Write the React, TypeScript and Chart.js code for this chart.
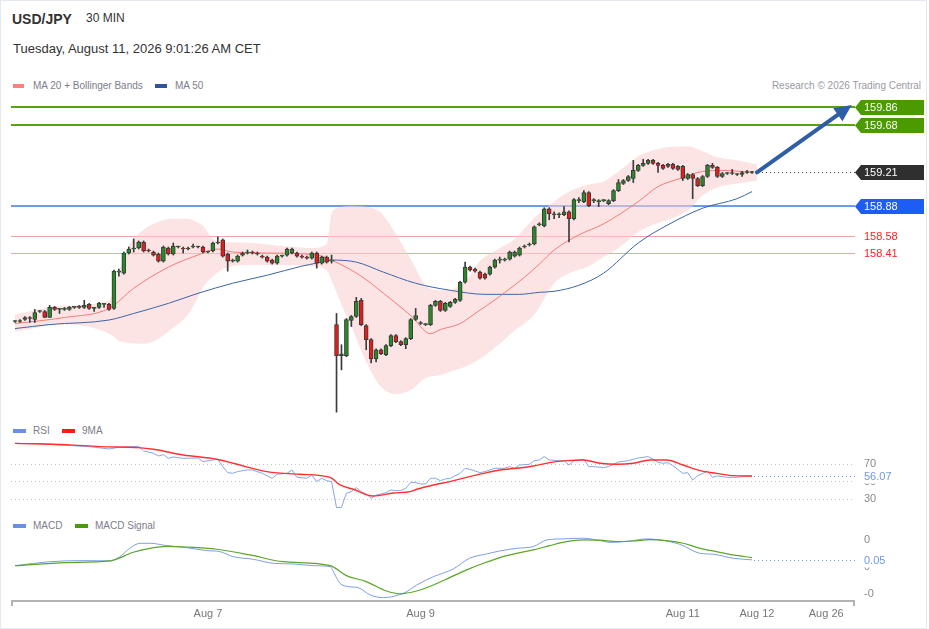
import React, { useEffect, useRef } from "react";
import { Chart, registerables } from "chart.js";
Chart.register(...registerables);

const FONT = '"Liberation Sans", Arial, Helvetica, sans-serif';

// ---------- Candles (30 min) ----------
const opens = [
  157.73,157.73,157.75,157.77,157.75,157.83,157.83,157.77,157.87,157.85,
  157.85,157.85,157.87,157.88,157.87,157.90,157.86,157.87,157.90,157.90,
  157.86,158.22,158.21,158.41,158.45,158.46,158.52,158.44,158.42,158.40,
  158.33,158.46,158.40,158.47,158.46,158.45,158.47,158.47,158.47,158.42,
  158.43,158.51,158.54,158.40,158.33,158.33,158.39,158.41,158.42,158.41,
  158.38,158.37,158.34,158.31,158.38,158.39,158.41,158.41,158.38,158.37,
  158.36,158.41,158.31,158.37,158.33,157.70,157.39,157.39,157.74,157.78,
  157.94,157.69,157.55,157.36,157.45,157.40,157.49,157.59,157.53,157.50,
  157.56,157.75,157.71,157.70,157.70,157.89,157.93,157.84,157.88,157.92,
  157.94,158.12,158.27,158.25,158.22,158.20,158.20,158.27,158.34,158.34,
  158.35,158.38,158.39,158.47,158.49,158.50,158.69,158.68,158.85,158.79,
  158.79,158.79,158.82,158.75,158.93,158.92,159.01,158.93,158.92,158.93,
  158.90,158.93,159.03,159.10,159.13,159.15,159.23,159.28,159.30,159.33,
  159.30,159.28,159.27,159.29,159.27,159.27,159.15,159.19,159.15,159.08,
  159.17,159.28,159.26,159.17,159.20,159.20,159.19,159.19,159.21,159.21,
];
const highs = [
  157.74,157.75,157.78,157.78,157.85,157.84,157.84,157.89,157.88,157.86,
  157.87,157.88,157.88,157.89,157.94,157.91,157.87,157.92,157.91,157.91,
  158.24,158.25,158.42,158.47,158.55,158.53,158.53,158.45,158.43,158.41,
  158.48,158.47,158.51,158.48,158.47,158.47,158.50,158.48,158.48,158.43,
  158.52,158.57,158.55,158.41,158.35,158.39,158.42,158.44,158.43,158.42,
  158.39,158.38,158.35,158.39,158.39,158.46,158.46,158.42,158.39,158.38,
  158.42,158.42,158.38,158.38,158.39,157.81,157.50,157.76,157.79,157.97,
  157.96,157.70,157.56,157.46,157.46,157.50,157.60,157.60,157.54,157.57,
  157.76,157.86,157.73,157.71,157.90,157.94,157.94,157.92,157.93,157.96,
  158.13,158.32,158.28,158.26,158.23,158.21,158.28,158.35,158.37,158.36,
  158.43,158.43,158.47,158.49,158.51,158.68,158.71,158.86,158.86,158.82,
  158.81,158.87,158.83,158.95,158.96,159.03,159.02,158.95,158.94,158.94,
  158.94,159.04,159.14,159.14,159.18,159.33,159.29,159.34,159.34,159.34,
  159.31,159.29,159.30,159.30,159.28,159.28,159.20,159.20,159.16,159.18,
  159.29,159.30,159.27,159.21,159.21,159.24,159.20,159.22,159.23,159.22,
];
const lows = [
  157.72,157.72,157.74,157.72,157.72,157.82,157.77,157.77,157.84,157.81,
  157.84,157.84,157.86,157.86,157.86,157.85,157.83,157.86,157.87,157.84,
  157.85,158.18,158.20,158.40,158.42,158.45,158.42,158.42,158.38,158.32,
  158.32,158.39,158.39,158.46,158.41,158.44,158.46,158.46,158.41,158.41,
  158.42,158.50,158.37,158.23,158.32,158.32,158.38,158.40,158.40,158.39,
  158.36,158.32,158.30,158.30,158.37,158.38,158.40,158.37,158.36,158.35,
  158.35,158.26,158.30,158.31,158.31,156.83,157.25,157.38,157.68,157.77,
  157.69,157.45,157.32,157.33,157.40,157.39,157.48,157.52,157.49,157.46,
  157.55,157.74,157.70,157.69,157.69,157.88,157.83,157.83,157.87,157.91,
  157.93,158.11,158.23,158.22,158.15,158.15,158.19,158.26,158.31,158.33,
  158.34,158.37,158.38,158.46,158.48,158.49,158.68,158.67,158.74,158.75,
  158.76,158.78,158.52,158.74,158.91,158.91,158.87,158.91,158.87,158.92,
  158.89,158.92,159.02,159.09,159.12,159.11,159.22,159.27,159.29,159.29,
  159.21,159.24,159.26,159.24,159.23,159.13,159.14,158.95,159.07,159.07,
  159.16,159.25,159.16,159.16,159.19,159.19,159.18,159.17,159.20,159.20,
];
const closes = [
  157.73,157.74,157.77,157.76,157.82,157.83,157.77,157.87,157.85,157.85,
  157.86,157.87,157.87,157.87,157.89,157.86,157.86,157.91,157.90,157.85,
  158.23,158.23,158.41,158.45,158.46,158.52,158.43,158.43,158.39,158.33,
  158.47,158.40,158.48,158.47,158.45,158.46,158.48,158.47,158.42,158.42,
  158.51,158.52,158.38,158.33,158.34,158.38,158.41,158.42,158.41,158.40,
  158.37,158.33,158.31,158.38,158.38,158.45,158.45,158.38,158.37,158.36,
  158.41,158.31,158.37,158.32,158.34,157.39,157.41,157.75,157.78,157.93,
  157.70,157.55,157.36,157.45,157.41,157.49,157.59,157.53,157.50,157.56,
  157.75,157.79,157.71,157.70,157.89,157.93,157.84,157.91,157.92,157.95,
  158.12,158.27,158.24,158.23,158.16,158.16,158.27,158.34,158.34,158.35,
  158.42,158.42,158.46,158.48,158.50,158.67,158.70,158.85,158.80,158.79,
  158.79,158.82,158.75,158.94,158.93,159.01,158.88,158.93,158.92,158.93,
  158.93,159.03,159.11,159.13,159.17,159.23,159.28,159.30,159.33,159.30,
  159.28,159.25,159.29,159.25,159.24,159.15,159.19,159.15,159.08,159.17,
  159.28,159.26,159.17,159.20,159.20,159.20,159.19,159.21,159.21,159.21,
];

// ---------- Overlays on price ----------
const ma20: number[][] = [
  [0,157.71],[10,157.77],[19,157.86],[24,158.06],[31,158.27],[37,158.39],[41,158.45],
  [44,158.42],[51,158.41],[61,158.39],[64,158.34],[70,158.18],[74.5,158.01],[80,157.79],
  [84,157.61],[86,157.65],[90,157.71],[93,157.81],[98,157.98],[103,158.17],[106,158.30],
  [109,158.44],[114,158.59],[119,158.70],[126,158.92],[130,159.07],[134.5,159.15],
  [139,159.22],[143,159.23],[149,159.21],
];
const ma50: number[][] = [
  [0,157.66],[7,157.70],[19,157.745],[24,157.81],[31,157.91],[37,158.01],[44,158.11],
  [51,158.19],[58,158.28],[61,158.31],[64,158.34],[69,158.32],[74.5,158.22],[81,158.11],
  [88,158.04],[95,158.00],[102,158.00],[106,158.02],[109,158.03],[114,158.09],[119,158.21],
  [126,158.51],[132,158.69],[139,158.855],[146,158.95],[149,159.02],
];
const bandIdx = [0,10,19,21,23,26,29,32,35,37,38,40,43,48,54,60,63,64,66,68,71,74,77,80,83,86,89,91,94,98,101,105,109,112,116,119,122,126,129,132,136,139,142,146,150];
const bandUpper = [157.80,157.89,157.94,158.22,158.48,158.64,158.72,158.75,158.75,158.71,158.68,158.55,158.52,158.51,158.48,158.46,158.50,158.80,158.87,158.88,158.87,158.81,158.60,158.35,158.09,158.04,158.06,158.13,158.33,158.46,158.55,158.76,158.92,159.02,159.09,159.12,159.22,159.37,159.43,159.46,159.47,159.42,159.36,159.33,159.29];
const bandLower = [157.63,157.70,157.61,157.54,157.52,157.51,157.56,157.67,157.80,157.97,158.07,158.18,158.27,158.29,158.29,158.28,158.24,158.14,157.90,157.68,157.33,157.08,157.01,157.05,157.17,157.20,157.25,157.28,157.36,157.51,157.64,157.80,158.11,158.21,158.28,158.37,158.46,158.62,158.69,158.74,158.83,158.98,159.06,159.10,159.13];

const levelValues = [159.86, 159.68, 159.21, 158.88, 158.58, 158.41];
const arrowFrom = [150, 159.21];
const arrowTo = [169.15, 159.88];

// ---------- RSI ----------
const rsiPts: number[][] = [
  [0,93.8],[5,93.5],[10,91.5],[15,90],[19,87.3],[21,89.2],[25,90.4],[26,85],[28,82.3],[29,79.2],
  [30,80.8],[31,76.5],[32,78.1],[34,76.5],[37,76.9],[38,72.7],[40,74.6],[41,75.4],[42,66.9],
  [43,60],[44,59.2],[45,61.2],[47,63.1],[48,63.1],[50,59.2],[52,53.5],[53,58.1],[55,59.2],
  [56,63.1],[57,54.6],[59,53.5],[60,57.3],[61,49.6],[62,53.5],[63,50.8],[64,49.6],[65,19.6],
  [66,20],[67,36.2],[68,38.1],[69,42.7],[70,38.1],[71,35.4],[72,30.4],[73,34.2],[74,35.4],
  [75,36.9],[76,40],[77,39.2],[78,39.2],[79,41.9],[80,48.8],[81,48.5],[82,46.9],[83,46.9],
  [84,53.5],[85,53.5],[86,50.8],[87,52.7],[88,53.5],[90,59.2],[91,65],[92,63.8],[94,60],
  [95,61.2],[97,65],[99,65],[100,66.9],[101,65],[102,68.8],[104,69.6],[105,73.8],[106,74.6],
  [107,78.5],[108,74.6],[110,73.8],[111,73.8],[112,68.8],[113,73.8],[115,75.4],[116,66.9],
  [117,66.9],[119,65.8],[120,66.9],[122,72.3],[124,73.8],[125,75.4],[126,76.9],[128,78.5],
  [129,75.4],[130,71.9],[131,70.8],[132,71.5],[133,68.1],[135,59.2],[136,60],[137,51.5],
  [138,56.2],[140,61.9],[141,54.6],[142,56.2],[144,54.6],[146,54.6],[147,55.4],[149,56.07],
];
const rsiMaPts: number[][] = [
  [0,93.8],[10.4,92.3],[17.2,90],[24.9,88.8],[28,86.9],[34,80.4],[40.8,75.4],[44.1,70.8],
  [50.9,61.2],[57.6,58.1],[63.7,54.6],[65.7,45.8],[68.4,40.8],[72.4,33.1],[76.5,36.5],
  [79.9,38.1],[81.2,40.8],[84.6,45.8],[87.9,49.6],[91.3,54.6],[94.7,59.2],[98,63.1],
  [101.4,65],[104.8,67.7],[108.1,71.5],[111.5,73.8],[114.9,74.6],[118.3,70.8],[121.6,69.6],
  [125,70.8],[128.4,74.6],[131.7,74.6],[135.1,68.8],[138.5,62.3],[141.8,59.2],[145.2,56.5],[149,56.07],
];
const rsiTicks = [70, 50, 30];
const rsiLast = 56.07;

// ---------- MACD ----------
const macdPts: number[][] = [
  [0,0.006],[7,0.036],[13.8,0.044],[19.2,0.042],[21.2,0.074],[23.2,0.137],[25.3,0.175],
  [27.3,0.175],[30.7,0.157],[34.7,0.142],[38.7,0.12],[41.4,0.112],[44.1,0.074],[48.2,0.054],
  [52.2,0.024],[56.3,0.019],[60.3,0.006],[63.7,-0.001],[64.7,-0.064],[65.7,-0.127],
  [67.4,-0.152],[69.4,-0.16],[71.8,-0.215],[74.5,-0.235],[77.8,-0.213],[79.2,-0.19],
  [81.2,-0.14],[84.6,-0.077],[88.6,-0.019],[91.9,0.062],[95.3,0.094],[98,0.117],
  [101.4,0.137],[104.8,0.15],[107.5,0.2],[110.8,0.208],[114.9,0.213],[117.6,0.2],
  [120.3,0.182],[124.3,0.192],[127.7,0.208],[130.4,0.2],[134.4,0.167],[138.5,0.099],
  [141.2,0.092],[145.2,0.062],[149,0.05],
];
const signalPts: number[][] = [
  [0,0.006],[10.4,0.029],[19.2,0.042],[23.9,0.107],[27.3,0.137],[30.7,0.152],[34.7,0.147],
  [40.8,0.13],[47.5,0.087],[54.2,0.036],[63.7,0.006],[67,-0.069],[71,-0.114],[75.1,-0.185],
  [77.8,-0.206],[81.2,-0.185],[84.6,-0.14],[87.9,-0.084],[91.3,-0.026],[94.7,0.024],
  [98,0.067],[101.4,0.099],[104.8,0.125],[108.1,0.157],[111.5,0.187],[114.9,0.2],
  [118.3,0.198],[121.6,0.187],[125,0.192],[128.4,0.203],[131.7,0.195],[135.1,0.175],
  [138.5,0.137],[141.8,0.112],[145.2,0.087],[149,0.067],
];
const macdTicks = [0.2, 0, -0.2];
const macdLast = 0.05;

// ---------- X axis ----------
const xTickIdx = [39, 82, 135, 150, 164];
const xTickLabels = ["Aug 7", "Aug 9", "Aug 11", "Aug 12", "Aug 26"];

const X_MIN = -0.809;
const X_MAX = 169.82;
const LAST_IDX = closes.length - 1;

const pts = (arr: number[][]) => arr.map(([x, y]) => ({ x, y }));

function baseOptions(ymin: number, ymax: number, padBottom = 0): any {
  return {
    responsive: false,
    animation: false,
    events: [],
    layout: { padding: { left: 11, right: 74, top: 0, bottom: padBottom } },
    plugins: { legend: { display: false }, tooltip: { enabled: false } },
    scales: {
      x: { type: "linear", min: X_MIN, max: X_MAX, display: false, offset: false, grid: { offset: false } },
      y: { type: "linear", min: ymin, max: ymax, display: false, beginAtZero: false },
    },
  };
}

function lineDs(data: number[][], color: string, width: number, order: number, tension = 0.3): any {
  return {
    type: "line",
    data: pts(data),
    borderColor: color,
    borderWidth: width,
    pointRadius: 0,
    fill: false,
    tension,
    cubicInterpolationMode: tension > 0 ? "monotone" : "default",
    order,
  };
}

const levelStyle: any[] = [
  { line: "#58a312", width: 2, tag: "#4b9a00", text: "#ffffff" },
  { line: "#58a312", width: 2, tag: "#4b9a00", text: "#ffffff" },
  { line: "#444444", width: 1, dash: [1, 3], fromLast: true, tag: "#2f2f2f", text: "#ffffff" },
  { line: "#6b9cf2", width: 2, tag: "#1d5cf5", text: "#ffffff" },
  { line: "#f4a3a3", width: 1, text: "#ff2020" },
  { line: "#f4a3a3", width: 1, text: "#ff2020" },
];

function drawTag(ctx: CanvasRenderingContext2D, left: number, yc: number, text: string, fill: string | undefined, color: string) {
  if (fill) {
    ctx.fillStyle = fill;
    ctx.beginPath();
    ctx.moveTo(left, yc);
    ctx.lineTo(left + 6, yc - 7.5);
    ctx.lineTo(left + 69, yc - 7.5);
    ctx.lineTo(left + 69, yc + 7.5);
    ctx.lineTo(left + 6, yc + 7.5);
    ctx.closePath();
    ctx.fill();
  }
  ctx.fillStyle = color;
  ctx.font = `11px ${FONT}`;
  ctx.textAlign = "left";
  ctx.textBaseline = "middle";
  ctx.fillText(text, left + 9, yc + 0.5);
}

const priceOverlay: any = {
  id: "priceOverlay",
  beforeDatasetsDraw(chart: any) {
    const { ctx, chartArea, scales } = chart;
    const x = scales.x, y = scales.y;
    ctx.save();
    levelValues.forEach((v, k) => {
      const st = levelStyle[k];
      const py = Math.round(y.getPixelForValue(v)) + (st.width % 2 ? 0.5 : 0);
      ctx.strokeStyle = st.line;
      ctx.lineWidth = st.width;
      ctx.setLineDash(st.dash || []);
      const x0 = st.fromLast ? x.getPixelForValue(LAST_IDX) + 6 : chartArea.left;
      ctx.beginPath();
      ctx.moveTo(x0, py);
      ctx.lineTo(chartArea.right, py);
      ctx.stroke();
    });
    ctx.restore();
  },
  afterDraw(chart: any) {
    const { ctx, chartArea, scales } = chart;
    const x = scales.x, y = scales.y;
    ctx.save();
    levelValues.forEach((v, k) => {
      const st = levelStyle[k];
      drawTag(ctx, chartArea.right, Math.round(y.getPixelForValue(v)) + 0.5, v.toFixed(2), st.tag, st.text);
    });
    // forecast arrow
    const x0 = x.getPixelForValue(arrowFrom[0]), y0 = y.getPixelForValue(arrowFrom[1]);
    const x1 = x.getPixelForValue(arrowTo[0]), y1 = y.getPixelForValue(arrowTo[1]);
    const len = Math.hypot(x1 - x0, y1 - y0);
    const ux = (x1 - x0) / len, uy = (y1 - y0) / len;
    const hl = 17, hw = 8;
    const bx = x1 - ux * hl, by = y1 - uy * hl;
    ctx.strokeStyle = "#2e5ea6";
    ctx.fillStyle = "#2e5ea6";
    ctx.lineWidth = 4;
    ctx.lineCap = "round";
    ctx.beginPath();
    ctx.moveTo(x0, y0);
    ctx.lineTo(bx + ux * 2, by + uy * 2);
    ctx.stroke();
    ctx.beginPath();
    ctx.moveTo(x1, y1);
    ctx.lineTo(bx - uy * hw, by + ux * hw);
    ctx.lineTo(bx + uy * hw, by - ux * hw);
    ctx.closePath();
    ctx.fill();
    ctx.restore();
  },
};

function priceConfig(): any {
  const wick = closes.map((_, i) => ({ x: i, y: [lows[i], highs[i]] }));
  const body = closes.map((c, i) => ({ x: i, y: [opens[i], c] }));
  const bodyColors = closes.map((c, i) => (c >= opens[i] ? "#278a27" : "#e61c1c"));
  const opts = baseOptions(156.802, 159.979);
  return {
    type: "bar",
    data: {
      datasets: [
        {
          type: "line",
          data: bandIdx.map((xv, k) => ({ x: xv, y: bandUpper[k] })),
          borderWidth: 0,
          borderColor: "rgba(0,0,0,0)",
          backgroundColor: "rgba(252, 205, 205, 0.55)",
          pointRadius: 0,
          fill: "+1",
          tension: 0.4,
          cubicInterpolationMode: "monotone",
          order: 10,
        },
        {
          type: "line",
          data: bandIdx.map((xv, k) => ({ x: xv, y: bandLower[k] })),
          borderWidth: 0,
          borderColor: "rgba(0,0,0,0)",
          pointRadius: 0,
          fill: false,
          tension: 0.4,
          cubicInterpolationMode: "monotone",
          order: 10,
        },
        lineDs(ma50, "#3d64a6", 1, 5),
        lineDs(ma20, "#f47a7a", 1, 4),
        {
          type: "bar",
          data: wick,
          backgroundColor: "#3b3b3b",
          barThickness: 1,
          grouped: false,
          order: 2,
        },
        {
          type: "bar",
          data: body,
          backgroundColor: bodyColors,
          borderColor: "#3a3a3a",
          borderWidth: 1,
          borderSkipped: false,
          barThickness: 4,
          minBarLength: 1,
          grouped: false,
          order: 1,
        },
      ],
    },
    options: opts,
    plugins: [priceOverlay],
  };
}

const rsiOverlay: any = {
  id: "rsiOverlay",
  beforeDatasetsDraw(chart: any) {
    const { ctx, chartArea, scales } = chart;
    ctx.save();
    ctx.strokeStyle = "#c4c4c4";
    ctx.lineWidth = 1;
    ctx.setLineDash([1, 3]);
    rsiTicks.forEach((t) => {
      const py = Math.round(scales.y.getPixelForValue(t)) + 0.5;
      ctx.beginPath();
      ctx.moveTo(chartArea.left, py);
      ctx.lineTo(chartArea.right, py);
      ctx.stroke();
    });
    ctx.restore();
  },
  afterDraw(chart: any) {
    const { ctx, chartArea, scales } = chart;
    ctx.save();
    ctx.font = `11px ${FONT}`;
    ctx.textBaseline = "middle";
    ctx.fillStyle = "#8a8a8a";
    rsiTicks.forEach((t) => ctx.fillText(String(t), chartArea.right + 9, scales.y.getPixelForValue(t) + 0.5));
    const py = Math.round(scales.y.getPixelForValue(rsiLast)) + 0.5;
    ctx.strokeStyle = "#6f98ee";
    ctx.setLineDash([1, 3]);
    ctx.beginPath();
    ctx.moveTo(scales.x.getPixelForValue(LAST_IDX) + 2, py);
    ctx.lineTo(chartArea.right, py);
    ctx.stroke();
    ctx.fillStyle = "#ffffff";
    ctx.fillRect(chartArea.right + 8, py - 6, 34, 13);
    ctx.fillStyle = "#6f98ee";
    ctx.fillText(rsiLast.toFixed(2), chartArea.right + 9, py + 0.5);
    ctx.restore();
  },
};

function rsiConfig(): any {
  return {
    type: "line",
    data: {
      datasets: [
        lineDs(rsiPts, "#86a5ea", 1, 2, 0),
        lineDs(rsiMaPts, "#ff3030", 1.4, 1, 0.3),
      ],
    },
    options: baseOptions(14.6, 101.1),
    plugins: [rsiOverlay],
  };
}

const macdOverlay: any = {
  id: "macdOverlay",
  afterDraw(chart: any) {
    const { ctx, chartArea, scales } = chart;
    const x = scales.x, y = scales.y;
    ctx.save();
    ctx.font = `11px ${FONT}`;
    ctx.textBaseline = "middle";
    ctx.fillStyle = "#8a8a8a";
    macdTicks.forEach((t) => ctx.fillText(t.toFixed(0), chartArea.right + 9, y.getPixelForValue(t) + 0.5));
    const py = Math.round(y.getPixelForValue(macdLast)) + 0.5;
    ctx.strokeStyle = "#6f98ee";
    ctx.lineWidth = 1;
    ctx.setLineDash([1, 3]);
    ctx.beginPath();
    ctx.moveTo(x.getPixelForValue(LAST_IDX) + 2, py);
    ctx.lineTo(chartArea.right, py);
    ctx.stroke();
    ctx.setLineDash([]);
    ctx.fillStyle = "#ffffff";
    ctx.fillRect(chartArea.right + 8, py - 6, 30, 13);
    ctx.fillStyle = "#6f98ee";
    ctx.fillText(macdLast.toFixed(2), chartArea.right + 9, py + 0.5);
    // x axis
    const b = chartArea.bottom + 1;
    ctx.strokeStyle = "#b3b3b3";
    ctx.lineWidth = 2;
    ctx.beginPath();
    ctx.moveTo(chartArea.left, b);
    ctx.lineTo(chartArea.right, b);
    ctx.moveTo(chartArea.left + 1, b);
    ctx.lineTo(chartArea.left + 1, b + 5);
    ctx.moveTo(chartArea.right - 1, b);
    ctx.lineTo(chartArea.right - 1, b + 5);
    ctx.stroke();
    ctx.fillStyle = "#777777";
    ctx.textAlign = "center";
    ctx.textBaseline = "alphabetic";
    xTickIdx.forEach((t, k) => ctx.fillText(xTickLabels[k], x.getPixelForValue(t), b + 16));
    ctx.restore();
  },
};

function macdConfig(): any {
  return {
    type: "line",
    data: {
      datasets: [
        lineDs(macdPts, "#7c9ee8", 1, 2, 0.3),
        lineDs(signalPts, "#5aa62a", 1.2, 1, 0.3),
      ],
    },
    options: baseOptions(-0.253, 0.26, 29),
    plugins: [macdOverlay],
  };
}

function ChartCanvas({ top, height, config }: { top: number; height: number; config: () => any }) {
  const ref = useRef<HTMLCanvasElement>(null);
  useEffect(() => {
    const chart = new Chart(ref.current as HTMLCanvasElement, config());
    return () => chart.destroy();
  }, []);
  return (
    <canvas
      ref={ref}
      width={929}
      height={height}
      style={{ position: "absolute", left: 0, top, width: 929, height, display: "block" }}
    />
  );
}

const txt = (left: number, top: number, size: number, color: string, extra: any = {}) => ({
  position: "absolute" as const,
  left,
  top,
  fontSize: size,
  lineHeight: `${size + 2}px`,
  color,
  fontFamily: FONT,
  whiteSpace: "nowrap" as const,
  ...extra,
});

const sw = (left: number, top: number, w: number, color: string) => ({
  position: "absolute" as const,
  left,
  top,
  width: w,
  height: 4,
  background: color,
});

export default function App() {
  return (
    <div
      style={{
        position: "fixed",
        left: 0,
        top: 0,
        width: 929,
        height: 629,
        background: "#ffffff",
        overflow: "hidden",
      }}
    >
      <div
        style={{
          position: "absolute",
          left: 0,
          top: 0,
          width: 927,
          height: 629,
          border: "1px solid #e4e9ef",
          boxSizing: "border-box",
        }}
      />
      <div style={txt(12, 11, 14, "#333333", { fontWeight: "bold" })}>USD/JPY</div>
      <div style={txt(86, 11, 12, "#333333")}>30 MIN</div>
      <div style={txt(13, 41, 13, "#333333")}>Tuesday, August 11, 2026 9:01:26 AM CET</div>

      <div style={sw(13, 84, 11, "#ff7f7f")} />
      <div style={txt(33, 80, 10, "#7d7d8a")}>MA 20 + Bollinger Bands</div>
      <div style={sw(155, 84, 12, "#2f5597")} />
      <div style={txt(175, 80, 10, "#7d7d8a")}>MA 50</div>
      <div style={txt(0, 80, 10, "#9a9aa5", { left: "auto", right: 8 })}>Research © 2026 Trading Central</div>

      <ChartCanvas top={95} height={320} config={priceConfig} />

      <div style={sw(13, 429, 13, "#6a8fe6")} />
      <div style={txt(33, 425, 10, "#7d7d8a")}>RSI</div>
      <div style={sw(62, 429, 13, "#ff1a1a")} />
      <div style={txt(82, 425, 10, "#7d7d8a")}>9MA</div>

      <ChartCanvas top={437} height={75} config={rsiConfig} />

      <div style={sw(13, 524, 13, "#6a8fe6")} />
      <div style={txt(33, 520, 10, "#7d7d8a")}>MACD</div>
      <div style={sw(75, 524, 13, "#4a9a0a")} />
      <div style={txt(95, 520, 10, "#7d7d8a")}>MACD Signal</div>

      <ChartCanvas top={532} height={97} config={macdConfig} />
    </div>
  );
}
